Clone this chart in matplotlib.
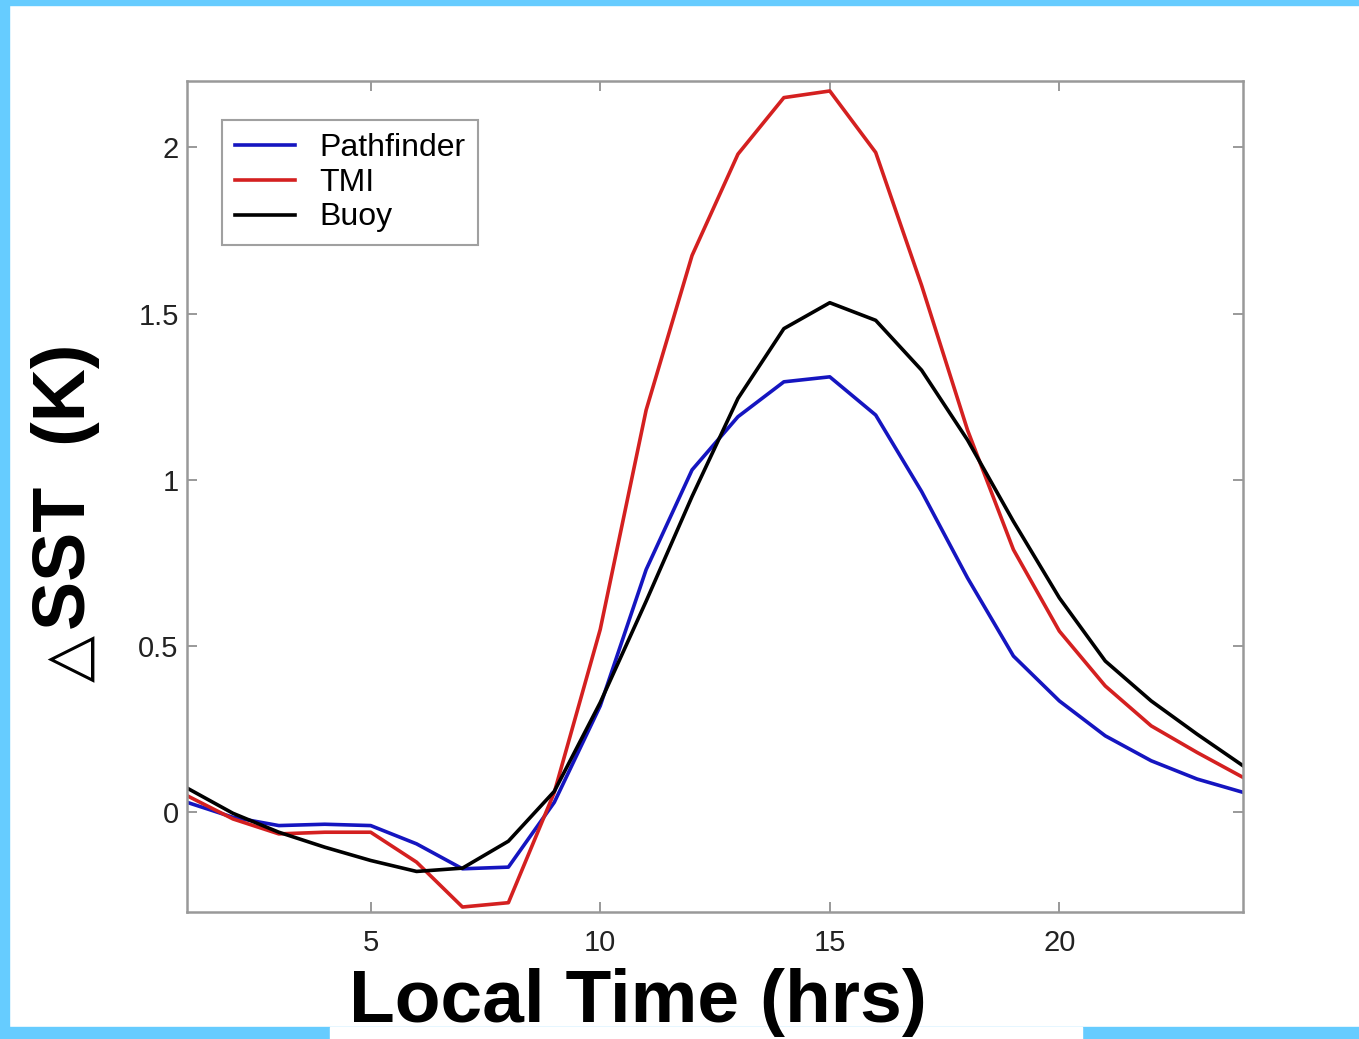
import matplotlib.pyplot as plt
from matplotlib.patches import Rectangle

# data
hours = list(range(1, 25))
pathfinder = [0.03, -0.015, -0.04, -0.036, -0.04, -0.095, -0.17, -0.165, 0.03, 0.32,
              0.73, 1.03, 1.19, 1.295, 1.31, 1.195, 0.965, 0.705, 0.47, 0.335,
              0.23, 0.155, 0.10, 0.06]
tmi = [0.05, -0.02, -0.065, -0.06, -0.06, -0.15, -0.285, -0.272, 0.06, 0.55,
       1.21, 1.675, 1.98, 2.15, 2.17, 1.985, 1.585, 1.15, 0.79, 0.545,
       0.38, 0.26, 0.18, 0.105]
buoy = [0.073, -0.003, -0.06, -0.105, -0.145, -0.178, -0.168, -0.087, 0.063, 0.33,
        0.635, 0.95, 1.245, 1.455, 1.533, 1.48, 1.33, 1.12, 0.875, 0.645,
        0.455, 0.335, 0.235, 0.14]
xticks = [5, 10, 15, 20]
yticks = [0, 0.5, 1, 1.5, 2]
ytick_labels = ['0', '0.5', '1', '1.5', '2']

plt.rcParams['font.family'] = ['Liberation Sans', 'DejaVu Sans']

fig = plt.figure(figsize=(13.59, 10.39), dpi=100)
W, H = 1359, 1039

# light blue frame
frame_blue = '#66ccff'
fig.patches.append(Rectangle((0, 0), 9 / W, 1, transform=fig.transFigure, color=frame_blue, zorder=0))
fig.patches.append(Rectangle((0, 1 - 5 / H), 1, 5 / H, transform=fig.transFigure, color=frame_blue, zorder=0))
fig.patches.append(Rectangle((0, 0), 1, 12 / H, transform=fig.transFigure, color=frame_blue, zorder=0))
fig.patches.append(Rectangle((330 / W, 0), (1082 - 330) / W, 12 / H, transform=fig.transFigure,
                             color='white', zorder=1))

ax = fig.add_axes([187 / W, 1 - 912 / H, (1243 - 187) / W, (912 - 81) / H])
ax.plot(hours, pathfinder, color='#1515c0', lw=2.6, label='Pathfinder')
ax.plot(hours, tmi, color='#d42020', lw=2.6, label='TMI')
ax.plot(hours, buoy, color='black', lw=2.6, label='Buoy')

ax.set_xlim(1, 24)
ax.set_ylim(-0.3, 2.2)
ax.set_xticks(xticks)
ax.set_yticks(yticks)
ax.set_yticklabels(ytick_labels)
ax.tick_params(direction='in', length=7, width=1.2, color='#888888', labelsize=21,
               top=True, right=True, labelcolor='#222222')
ax.tick_params(axis='x', pad=12)
ax.tick_params(axis='y', pad=6)
for s in ax.spines.values():
    s.set_color('#999999')
    s.set_linewidth(1.8)

leg = ax.legend(loc='upper left', bbox_to_anchor=((222 - 187) / 1056, (912 - 120) / 831),
                fontsize=23, frameon=True, fancybox=False, handlelength=1.9,
                handletextpad=0.75, borderpad=0.4, borderaxespad=0, labelspacing=0.15,
                handleheight=0.6)
leg.get_frame().set_edgecolor('#888888')
leg.get_frame().set_linewidth(1.5)

# axis labels
fig.text(638 / W, 1 - 1022 / H, 'Local Time (hrs)', ha='center', va='baseline',
         fontsize=54, fontweight='bold')
fig.text(100 / W, 1 - 630 / H, 'SST  (K)', rotation=90, ha='right', va='bottom',
         fontsize=53, fontweight='bold')
fig.text(100 / W, 1 - 682 / H, '\u25b3', rotation=90, ha='right', va='bottom',
         fontsize=44, family=['DejaVu Sans'])

fig.savefig('out.png', dpi=100)
